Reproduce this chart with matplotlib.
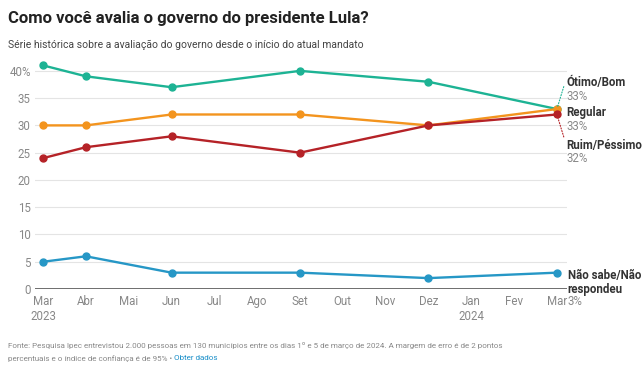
import matplotlib.pyplot as plt
import numpy as np

plt.rcParams['font.family'] = ['Roboto', 'DejaVu Sans']

# months since Mar 2023
months = [0, 1, 3, 6, 9, 12]
tick_pos = list(range(13))
tick_labels = ['Mar\n2023', 'Abr', 'Mai', 'Jun', 'Jul', 'Ago', 'Set', 'Out', 'Nov', 'Dez', 'Jan\n2024', 'Fev', 'Mar']

otimo = [41, 39, 37, 40, 38, 33]
regular = [30, 30, 32, 32, 30, 33]
ruim = [24, 26, 28, 25, 30, 32]
nsnr = [5, 6, 3, 3, 2, 3]

names = ['Ótimo/Bom', 'Regular', 'Ruim/Péssimo', 'Não sabe/Não\nrespondeu']
colors = ['#1db394', '#f3941e', '#b52227', '#2697c6']
series = [otimo, regular, ruim, nsnr]

fig = plt.figure(figsize=(6.44, 3.78), dpi=100)
ax = fig.add_axes([0.0543, 0.2354, 0.8257, 0.606])

for y, c in zip(series, colors):
    ax.plot(months, y, color=c, lw=1.7, marker='o', markersize=5, zorder=3, clip_on=False)

ax.set_xlim(-0.19, 12.23)
ax.set_ylim(0, 42)
ax.set_yticks(range(0, 41, 5))
ax.set_yticklabels(['0', '5', '10', '15', '20', '25', '30', '35', '40%'])
ax.set_xticks(tick_pos)
ax.set_xticklabels(tick_labels)
ax.tick_params(axis='both', length=0, labelsize=8.3, colors='#888888', pad=3)
ax.tick_params(axis='x', pad=4)
for s in ax.spines.values():
    s.set_visible(False)
ax.grid(axis='y', color='#e4e4e4', lw=0.8, zorder=0)
ax.axhline(0, color='#555555', lw=1.2, zorder=2)

# right-hand labels
lab_x = 12.23
ax.annotate('', xy=(12, otimo[-1]), xytext=(lab_x - 0.05, 37.6),
            arrowprops=dict(arrowstyle='-', color=colors[0], lw=0.8, ls=(0, (1, 1.5))), annotation_clip=False)
ax.annotate('', xy=(12, ruim[-1]), xytext=(lab_x - 0.05, 27.4),
            arrowprops=dict(arrowstyle='-', color=colors[2], lw=0.8, ls=(0, (1, 1.5))), annotation_clip=False)

lab_y = [37.9, 32.3, 26.4]
for i in range(3):
    ax.text(lab_x, lab_y[i], names[i], fontsize=8.3, fontweight='bold', color='#333333',
            va='center', ha='left', clip_on=False)
    ax.text(lab_x, lab_y[i] - 2.55, str(series[i][-1]) + '%', fontsize=8.3, color='#888888',
            va='center', ha='left', clip_on=False)
ax.text(lab_x + 0.02, 1.15, names[3], fontsize=8.3, fontweight='bold', color='#333333',
        va='center', ha='left', linespacing=1.15, clip_on=False)
ax.text(lab_x + 0.02, -2.3, str(nsnr[-1]) + '%', fontsize=8.3, color='#888888',
        va='center', ha='left', clip_on=False)

fig.text(0.0124, 0.952, 'Como você avalia o governo do presidente Lula?', fontsize=12,
         fontweight='bold', color='#222222', va='center')
fig.text(0.0124, 0.88, 'Série histórica sobre a avaliação do governo desde o início do atual mandato',
         fontsize=7.5, color='#444444', va='center')

foot1 = 'Fonte: Pesquisa Ipec entrevistou 2.000 pessoas em 130 municípios entre os dias 1º e 5 de março de 2024. A margem de erro é de 2 pontos'
fig.text(0.0124, 0.087, foot1, fontsize=5.8, color='#888888', va='center')
t = fig.text(0.0124, 0.052, 'percentuais e o índice de confiança é de 95% • ', fontsize=5.8, color='#888888', va='center')
fig.canvas.draw()
bb = t.get_window_extent()
fig.text(bb.x1 / fig.bbox.width, 0.052, 'Obter dados', fontsize=5.8, color='#1a8fc9', va='center')

fig.savefig('out.png', dpi=100)
